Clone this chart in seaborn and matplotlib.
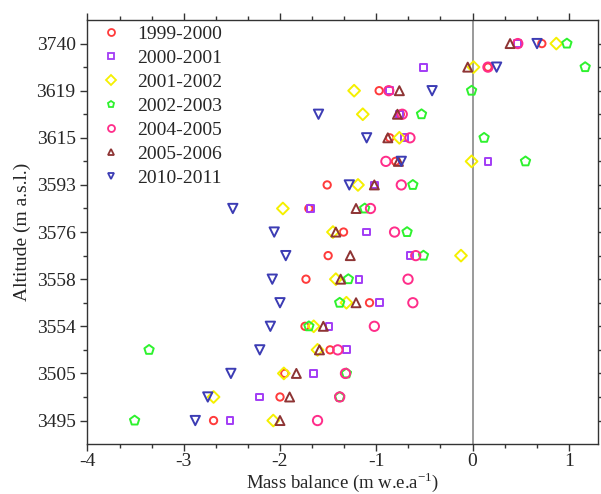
import numpy as np
import pandas as pd
import matplotlib
matplotlib.use('Agg')
import matplotlib.pyplot as plt
from matplotlib.lines import Line2D
from matplotlib.ticker import MultipleLocator
import seaborn as sns

# altitude labels shown on every other row (top to bottom)
altitude_labels = ['3740', '3619', '3615', '3593', '3576', '3558', '3554', '3505', '3495']
n_rows = 17

periods = ['1999-2000', '2000-2001', '2001-2002', '2002-2003', '2004-2005', '2005-2006', '2010-2011']

# mass balance per row, top row first (m w.e. a-1)
mb_1999_2000 = [0.72, 0.16, -0.97, -0.75, -0.86, -0.80, -1.51, -1.70, -1.34, -1.50, -1.73, -1.07, -1.74, -1.48, -1.95, -2.00, -2.69]
mb_2000_2001 = [0.47, -0.51, -0.86, -0.76, -0.71, 0.16, -1.02, -1.68, -1.10, -0.65, -1.18, -0.97, -1.49, -1.31, -1.65, -2.21, -2.52]
mb_2001_2002 = [0.87, 0.01, -1.23, -1.14, -0.76, -0.01, -1.19, -1.97, -1.45, -0.12, -1.42, -1.31, -1.65, -1.61, -1.96, -2.69, -2.07]
mb_2002_2003 = [0.98, 1.17, -0.01, -0.53, 0.12, 0.55, -0.62, -1.12, -0.68, -0.51, -1.29, -1.38, -1.70, -3.36, -1.31, -1.38, -3.51]
mb_2004_2005 = [0.47, 0.16, -0.87, -0.73, -0.65, -0.90, -0.74, -1.06, -0.81, -0.59, -0.67, -0.62, -1.02, -1.40, -1.32, -1.38, -1.61]
mb_2005_2006 = [0.39, -0.05, -0.76, -0.78, -0.88, -0.77, -1.02, -1.21, -1.42, -1.27, -1.37, -1.21, -1.55, -1.59, -1.83, -1.90, -2.00]
mb_2010_2011 = [0.67, 0.25, -0.42, -1.60, -1.10, -0.74, -1.28, -2.49, -2.06, -1.94, -2.08, -2.00, -2.10, -2.21, -2.51, -2.75, -2.88]

all_mb = [mb_1999_2000, mb_2000_2001, mb_2001_2002, mb_2002_2003, mb_2004_2005, mb_2005_2006, mb_2010_2011]

colors = ['#ff3b3b', '#a23cf5', '#f5f000', '#2ef22e', '#ff2d8a', '#8e3434', '#3c3cb4']
markers = ['o', 's', 'D', 'p', 'o', '^', 'v']
sizes = [28, 24, 36, 50, 45, 42, 45]

rows = []
for p, vals in zip(periods, all_mb):
    for k, v in enumerate(vals):
        rows.append({'period': p, 'row': n_rows - 1 - k, 'mb': v})
df = pd.DataFrame(rows)

sns.set_style('ticks')
plt.rcParams['font.family'] = ['Liberation Serif', 'DejaVu Serif']
plt.rcParams['mathtext.fontset'] = 'custom'
plt.rcParams['mathtext.rm'] = 'Liberation Serif'
plt.rcParams['axes.unicode_minus'] = False

fig = plt.figure(figsize=(6.01, 4.94), dpi=100)
ax = fig.add_axes([0.1455, 0.101, 0.849, 0.8585])

ax.axvline(0, color='#9a9a9a', lw=1.4, zorder=0)

sns.scatterplot(data=df, x='mb', y='row', hue='period', style='period', size='period',
                palette=dict(zip(periods, colors)), markers=dict(zip(periods, markers)),
                sizes=dict(zip(periods, sizes)), linewidth=1.4, legend=False, ax=ax, zorder=3)

pts = ax.collections[0]
pts.set_edgecolors(pts.get_facecolors())
pts.set_facecolors('none')

ax.set_xlim(-4, 1.3)
ax.set_ylim(-1, 17)
ax.xaxis.set_major_locator(MultipleLocator(1))
ax.xaxis.set_minor_locator(MultipleLocator(1 / 3))
ax.set_yticks(np.arange(16, -1, -2))
ax.set_yticklabels(altitude_labels)
ax.set_yticks(np.arange(15, 0, -2), minor=True)
ax.tick_params(which='both', direction='out', top=True, right=True, labelsize=14, width=1, color='#333333')
ax.tick_params(which='major', length=5)
ax.tick_params(which='minor', length=3)
ax.tick_params(axis='x', pad=1.5)
for s in ax.spines.values():
    s.set_color('#333333')
    s.set_linewidth(1)

ax.set_xlabel('Mass balance (m w.e.a$^{-1}$)', fontsize=13.5, labelpad=0)
ax.set_ylabel('Altitude (m a.s.l.)', fontsize=14, labelpad=4)

handles = [Line2D([], [], marker=m, color=c, markerfacecolor='none', markeredgecolor=c,
                  linestyle='none', markersize=5, markeredgewidth=1.3)
           for m, c in zip(markers, colors)]
ax.legend(handles, periods, loc='upper left', bbox_to_anchor=(0.028, 0.988), frameon=False,
          fontsize=14, handletextpad=0.82, labelspacing=0.33, borderaxespad=0, borderpad=0,
          handlelength=1.0)

fig.savefig('out.png', dpi=100)
